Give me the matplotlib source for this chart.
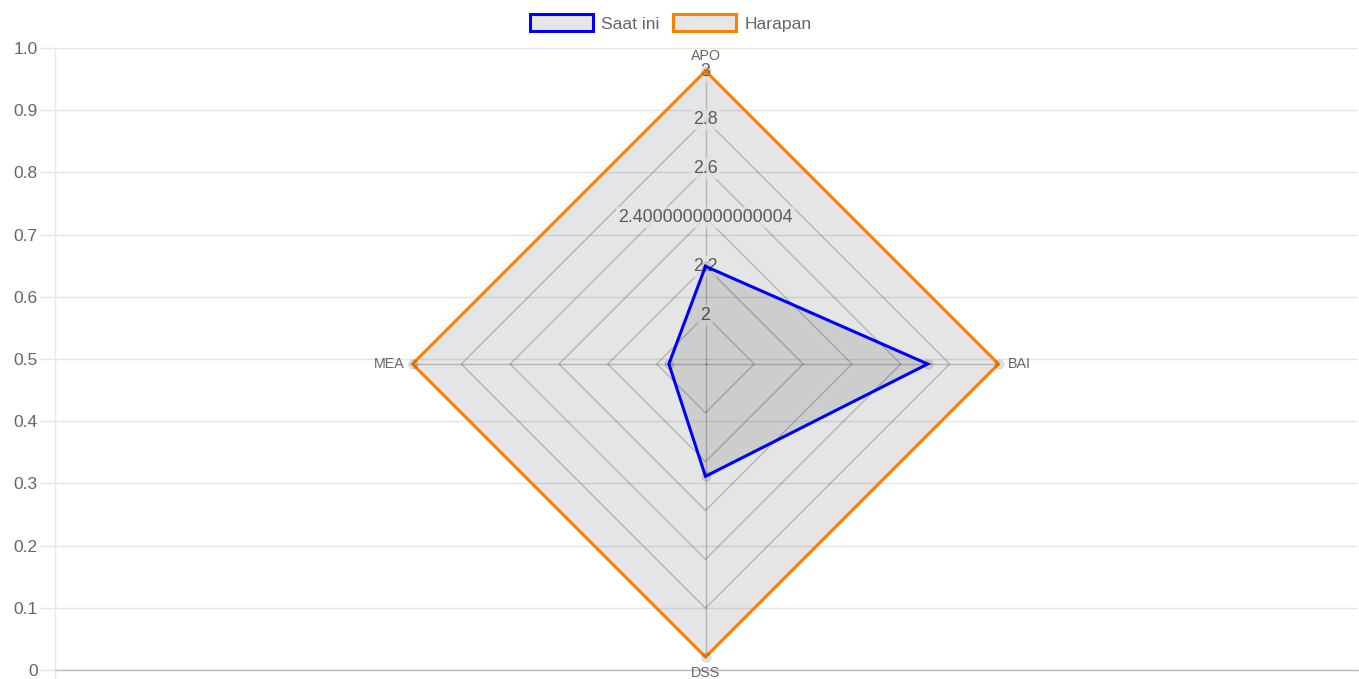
import matplotlib
matplotlib.use('Agg')
import numpy as np
import matplotlib.pyplot as plt
from matplotlib.patches import Patch

# ---------------- data ----------------
categories = ['APO', 'BAI', 'DSS', 'MEA']
saat_ini = [2.2, 2.71, 2.26, 1.95]
harapan = [3, 3, 3, 3]
series_names = ['Saat ini', 'Harapan']
series_colors = ['#0000ff', '#ff7f00']
radial_min = 1.8
radial_ticks = [2.0, 2.2, 2.4, 2.6, 2.8, 3.0]
radial_tick_labels = ['2', '2.2', '2.4000000000000004', '2.6', '2.8', '3']
y_ticks = [0, 0.1, 0.2, 0.3, 0.4, 0.5, 0.6, 0.7, 0.8, 0.9, 1.0]
y_tick_labels = ['0', '0.1', '0.2', '0.3', '0.4', '0.5', '0.6', '0.7', '0.8', '0.9', '1.0']

plt.rcParams['font.family'] = ['Liberation Sans', 'DejaVu Sans']

W, H = 1359, 679
fig = plt.figure(figsize=(W / 100, H / 100), dpi=100)

TEXT = '#666666'
GRID = '#e6e6e6'

# ---------------- cartesian background axis ----------------
top_px, bot_px, left_px, right_px = 48, 670, 55, 1358
cart = fig.add_axes([left_px / W, (H - bot_px) / H, (right_px - left_px) / W, (bot_px - top_px) / H])
cart.set_xlim(0, 1)
cart.set_ylim(0, 1)
cart.set_yticks(y_ticks)
cart.set_yticklabels(y_tick_labels)
cart.set_xticks([])
cart.grid(axis='y', color=GRID, lw=1.05)
cart.set_axisbelow(True)
for s in ['top', 'right']:
    cart.spines[s].set_visible(False)
cart.spines['left'].set_color(GRID)
cart.spines['left'].set_linewidth(1.05)
cart.spines['bottom'].set_color('#bfbfbf')
cart.spines['bottom'].set_linewidth(1.05)
cart.tick_params(axis='y', length=10.8, color=GRID, width=1.05, pad=1.5,
                 labelsize=12.5, labelcolor=TEXT)
cart.plot([0, 0], [0, -9 / (bot_px - top_px)], color=GRID, lw=1.05, clip_on=False)

# ---------------- radar ----------------
R = 293
cx, cy = 705.5, 364
pax = fig.add_axes([(cx - R) / W, (H - cy - R) / H, 2 * R / W, 2 * R / H], projection='polar')
pax.set_theta_offset(np.pi / 2)
pax.set_theta_direction(-1)
pax.set_ylim(radial_min, max(radial_ticks))
pax.axis('off')

n = len(categories)
angles = np.linspace(0, 2 * np.pi, n, endpoint=False)
closed = np.append(angles, angles[0])

ring_col = (0, 0, 0, 0.2)
for r in radial_ticks:
    pax.plot(closed, [r] * (n + 1), color=ring_col, lw=1.05, zorder=1, clip_on=False)
for a in angles:
    pax.plot([a, a], [radial_min, max(radial_ticks)], color=ring_col, lw=1.05, zorder=1, clip_on=False)

for r, lab in zip(radial_ticks, radial_tick_labels):
    pax.text(0, r, lab, ha='center', va='center', fontsize=12.8, color=TEXT, zorder=2,
             bbox=dict(boxstyle='square,pad=0.12', fc=(1, 1, 1, 0.75), ec='none'))

# point labels
offsets = {'APO': ((0, 7.9), 'center', 'baseline'),
           'BAI': ((6.5, 0), 'left', 'center'),
           'DSS': ((0, -6.5), 'center', 'top'),
           'MEA': ((-5.8, 0), 'right', 'center')}
for a, cat in zip(angles, categories):
    off, ha, va = offsets[cat]
    pax.annotate(cat, xy=(a, max(radial_ticks)), xytext=off, textcoords='offset points',
                 ha=ha, va=va, fontsize=10.3, color=TEXT, annotation_clip=False, zorder=6)

datasets = [saat_ini, harapan]
for idx in [1, 0]:
    vals = datasets[idx]
    vc = list(vals) + [vals[0]]
    z = 3 if idx == 1 else 6
    pax.fill(closed, vc, color=(0, 0, 0, 0.1), lw=0, zorder=z, clip_on=False)
    pax.plot(closed, vc, color=series_colors[idx], lw=2.2, zorder=z + 1, clip_on=False,
             solid_joinstyle='miter')
    pax.plot(angles, vals, ls='none', marker='o', ms=6.5, mfc=(0, 0, 0, 0.1),
             mec=(0, 0, 0, 0.1), mew=1, zorder=z + 2, clip_on=False)

# ---------------- legend ----------------
handles = [Patch(facecolor='#e6e6e6', edgecolor=c, lw=2.2) for c in series_colors]
fig.legend(handles, series_names, loc='center', bbox_to_anchor=(670.5 / W, 1 - 23 / H),
           ncol=2, frameon=False, fontsize=12.6, handlelength=3.6, handleheight=1.14,
           handletextpad=0.46, columnspacing=0.8, labelcolor=TEXT, borderaxespad=0, borderpad=0)

fig.savefig('out.png', dpi=100)
